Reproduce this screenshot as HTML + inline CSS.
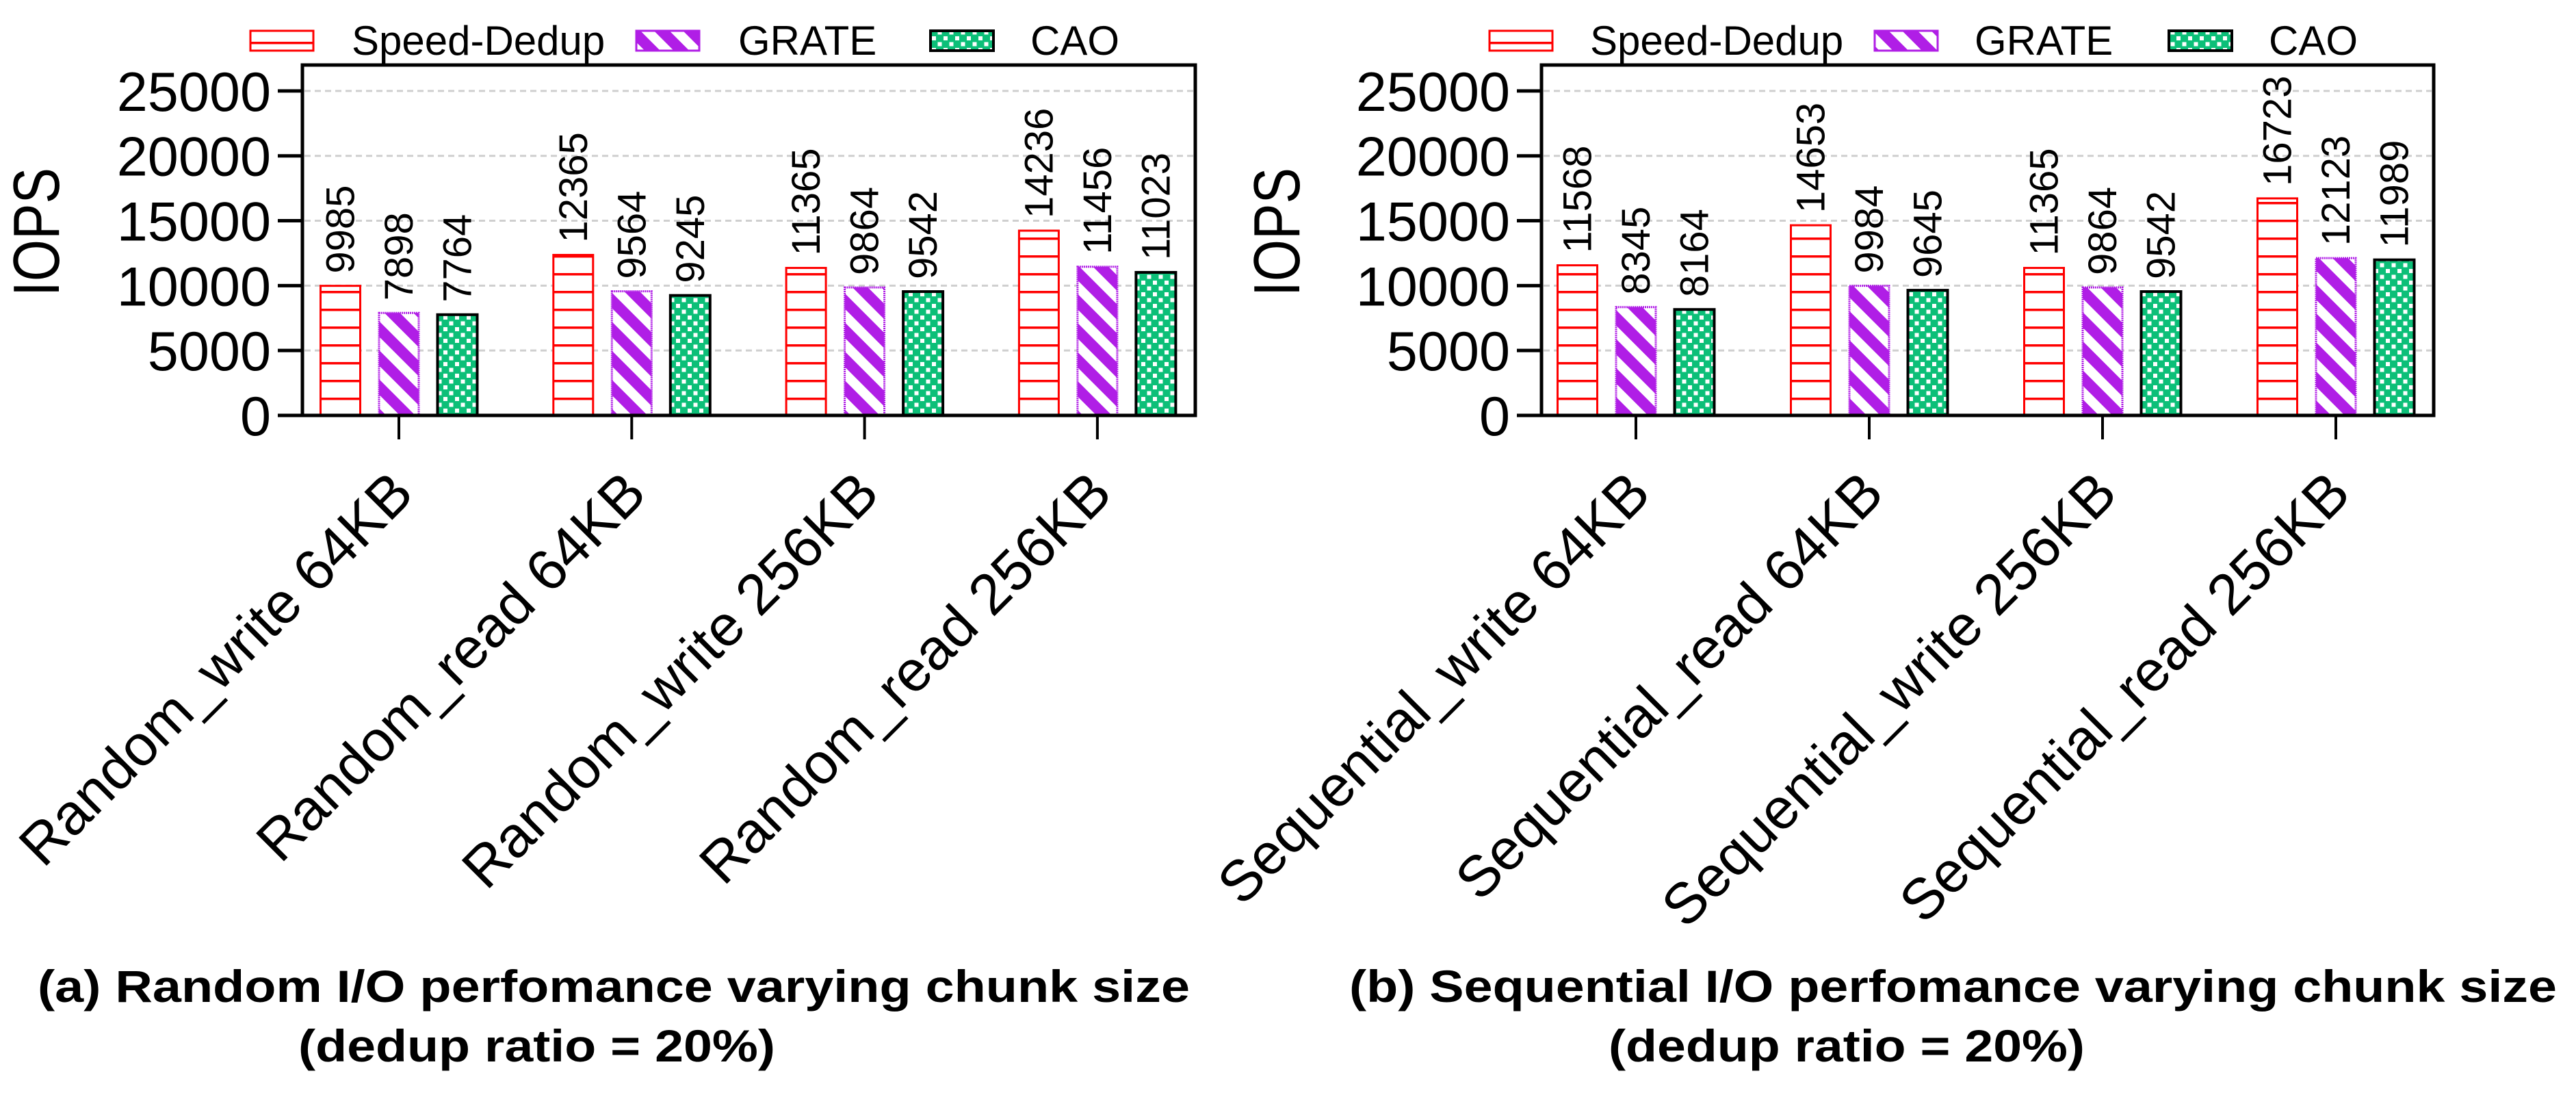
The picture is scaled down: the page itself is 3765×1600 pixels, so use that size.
<!DOCTYPE html>
<html><head><meta charset="utf-8">
<style>
html,body{margin:0;padding:0;background:#fff;}
svg{display:block;font-family:"Liberation Sans",Arial,sans-serif;}
</style></head>
<body>
<svg id="fig" width="3765" height="1600" viewBox="0 0 3765 1600" xmlns="http://www.w3.org/2000/svg">
<defs>
  <pattern id="pRed" patternUnits="userSpaceOnUse" width="60" height="26" y="607">
    <rect x="0" y="0" width="60" height="26" fill="#fff"/>
    <rect x="0" y="0" width="60" height="3.5" fill="#ff0000"/>
  </pattern>
  <pattern id="pPurple" patternUnits="userSpaceOnUse" width="30" height="30" patternTransform="rotate(45)">
    <rect x="0" y="0" width="30" height="30" fill="#fff"/>
    <rect x="0" y="0" width="30" height="16" fill="#b01ee6"/>
  </pattern>
  <pattern id="pGreen" patternUnits="userSpaceOnUse" width="17" height="17">
    <rect x="0" y="0" width="17" height="17" fill="#0cbf78"/>
    <rect x="2" y="2" width="6" height="6" fill="#fff"/>
    <rect x="10.5" y="10.5" width="6" height="6" fill="#fff"/>
  </pattern>
</defs>
<g id="root"></g>
</svg>
<script>
const categoriesA = ["Random_write 64KB","Random_read 64KB","Random_write 256KB","Random_read 256KB"];
const categoriesB = ["Sequential_write 64KB","Sequential_read 64KB","Sequential_write 256KB","Sequential_read 256KB"];
const seriesNames = ["Speed-Dedup","GRATE","CAO"];
const speedDedupA = [9985, 12365, 11365, 14236];
const grateA = [7898, 9564, 9864, 11456];
const caoA = [7764, 9245, 9542, 11023];
const speedDedupB = [11568, 14653, 11365, 16723];
const grateB = [8345, 9984, 9864, 12123];
const caoB = [8164, 9645, 9542, 11989];
const yTicks = [0, 5000, 10000, 15000, 20000, 25000];
const yMax = 27000;

const NS = "http://www.w3.org/2000/svg";
const root = document.getElementById('root');
function mk(tag, attrs, parent, text) {
  const e = document.createElementNS(NS, tag);
  for (const k in attrs) e.setAttribute(k, attrs[k]);
  if (text !== undefined) e.textContent = text;
  (parent || root).appendChild(e);
  return e;
}
const fills = ["url(#pRed)","url(#pPurple)","url(#pGreen)"];
const strokes = ["#ff0000","#b01ee6","#000"];

function drawPanel(cfg) {
  const g = mk('g', {});
  
  
  const L = cfg.left, R = cfg.right, B = 607, T = 95;
  const y = v => B - v / yMax * (B - T);
  const xc = i => cfg.firstCenter + i * cfg.step;
  yTicks.forEach(t => {
    if (t === 0) return;
    const gl = mk('line', {x1: L + 3, x2: R - 3, y1: y(t), y2: y(t), stroke: '#cfcfcf', 'stroke-width': 3, 'stroke-dasharray': '9 6'}, g);
    
    
  });
  const series = cfg.series;
  series.forEach((vals, s) => {
    vals.forEach((v, i) => {
      const cx = xc(i) + (s - 1) * 85.5;
      const x0 = cx - 29, w = 58, top = y(v);
      const r = mk('rect', {x: x0, y: top, width: w, height: B - top, fill: fills[s], stroke: strokes[s], 'stroke-width': s === 2 ? 4 : 3, 'stroke-dasharray': s === 1 ? '2 1' : 'none'}, g);
      
      
      const lx = cx + 20, ly = top - 18;
      const t = mk('text', {x: lx, y: ly, transform: `rotate(-90 ${lx} ${ly})`, 'font-size': 58, fill: '#000'}, g, String(v));
      
      
    });
  });
  const ax = mk('path', {d: `M${L} ${B} L${L} ${T} L${R} ${T} L${R} ${B} Z`, fill: 'none', stroke: '#000', 'stroke-width': 5}, g);
  
  
  const xa = mk('line', {x1: L - 36, x2: R + 2, y1: B, y2: B, stroke: '#000', 'stroke-width': 5}, g);
  
  
  yTicks.forEach(t => {
    if (t > 0) {
      const tk = mk('line', {x1: L - 36, x2: L, y1: y(t), y2: y(t), stroke: '#000', 'stroke-width': 5}, g);
      
      
    }
    const tl = mk('text', {x: L - 46, y: y(t) + 29, 'text-anchor': 'end', 'font-size': 81, fill: '#000'}, g, String(t));
    
    
  });
  cfg.categories.forEach((c, i) => {
    const tk = mk('line', {x1: xc(i), x2: xc(i), y1: B, y2: B + 35, stroke: '#000', 'stroke-width': 4}, g);
    
    
    const ex = xc(i) + 25, ey = 725;
    const tl = mk('text', {x: ex, y: ey, 'text-anchor': 'end', transform: `rotate(-45 ${ex} ${ey})`, 'font-size': 84, fill: '#000'}, g, c);
    
    
  });
  const yl = mk('text', {x: cfg.yTitleX + 34, y: 339, 'text-anchor': 'middle', transform: `rotate(-90 ${cfg.yTitleX + 34} 339)`, 'font-size': 96, textLength: 188, lengthAdjust: 'spacingAndGlyphs', fill: '#000'}, g, 'IOPS');
  
  
  cfg.legend.forEach((lg, s) => {
    const sw = mk('rect', {x: lg[0], y: 45, width: 92, height: 29, fill: fills[s], stroke: strokes[s], 'stroke-width': s === 2 ? 4 : 3}, g);
    
    
    const lt = mk('text', {x: lg[1], y: 80, 'font-size': 60, fill: '#000'}, g, seriesNames[s]);
    
    
  });
  const c1 = mk('text', {x: cfg.cap1[0], y: 1464, 'font-size': 66, 'font-weight': 'bold', textLength: cfg.cap1[1] - cfg.cap1[0], lengthAdjust: 'spacingAndGlyphs', fill: '#000'}, g, cfg.caption);
  
  
  const c2 = mk('text', {x: cfg.cap2[0], y: 1551, 'font-size': 66, 'font-weight': 'bold', textLength: cfg.cap2[1] - cfg.cap2[0], lengthAdjust: 'spacingAndGlyphs', fill: '#000'}, g, '(dedup ratio = 20%)');
  
  
}

drawPanel({name: 'panel-random', left: 442, right: 1747, firstCenter: 583, step: 340.3,
  categories: categoriesA, series: [speedDedupA, grateA, caoA], yTitleX: 52,
  legend: [[366, 514], [930, 1079], [1360, 1506]],
  caption: '(a) Random I/O perfomance varying chunk size', cap1: [55, 1739], cap2: [436, 1133]});
drawPanel({name: 'panel-sequential', left: 2253, right: 3557, firstCenter: 2391, step: 341,
  categories: categoriesB, series: [speedDedupB, grateB, caoB], yTitleX: 1865,
  legend: [[2177, 2324], [2740, 2886], [3170, 3316]],
  caption: '(b) Sequential I/O perfomance varying chunk size', cap1: [1972, 3737], cap2: [2351, 3047]});
</script>
</body></html>
